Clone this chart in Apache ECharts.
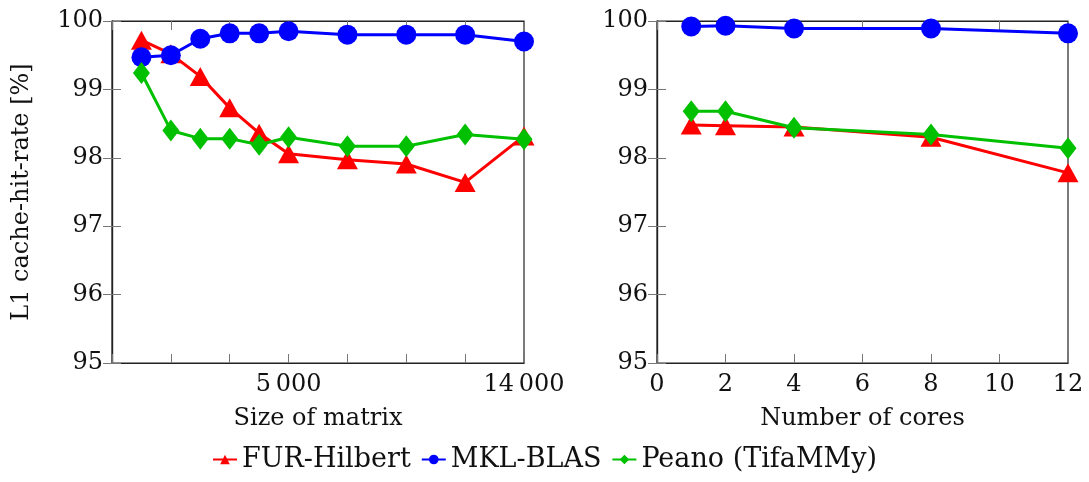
<!DOCTYPE html>
<html>
<head>
<meta charset="utf-8">
<script src="https://cdn.jsdelivr.net/npm/echarts@6/dist/echarts.min.js"></script>
<style>html,body{margin:0;padding:0;background:#fff}#c{width:1089px;height:482px}</style>
</head>
<body>
<div id="c"></div>
<script>
// Left panel: matrix sizes placed on the (non-uniform) axis steps used in the figure
const sizeSteps = [1, 2, 3, 4, 5, 6, 8, 10, 12, 14];
const sizeTickLabels = {6: '5\u2009000', 14: '14\u2009000'};
const furSize  = [99.72, 99.52, 99.19, 98.73, 98.36, 98.06, 97.97, 97.91, 97.64, 98.32];
const mklSize  = [99.47, 99.50, 99.74, 99.82, 99.82, 99.85, 99.80, 99.80, 99.80, 99.70];
const peanoSize= [99.24, 98.40, 98.28, 98.28, 98.19, 98.30, 98.17, 98.17, 98.34, 98.27];
// Right panel: number of cores
const cores = [1, 2, 4, 8, 12];
const furCores  = [98.48, 98.47, 98.45, 98.30, 97.78];
const mklCores  = [99.92, 99.93, 99.89, 99.89, 99.82];
const peanoCores= [98.68, 98.68, 98.44, 98.34, 98.14];

const FONT = 'DejaVu Serif';
const names = ['FUR-Hilbert', 'MKL-BLAS', 'Peano (TifaMMy)'];
const colors = ['#ff0000', '#0000ff', '#00c000'];
const symbols = ['triangle', 'circle', 'diamond'];
const symSizes = [[21, 19], 20, [17, 22]];

function zip(xs, ys){ return xs.map((x,i)=>[x, ys[i]]); }

const chart = echarts.init(document.getElementById('c'), null, {renderer:'canvas'});
const axisLine = {show:true, lineStyle:{color:'#222', width:1.2}};
const tick = {show:true, inside:true, length:9, lineStyle:{color:'#777', width:1}};
const lbl = {fontFamily:FONT, fontSize:24, color:'#111'};

function mkSeries(idx, data, xi, yi){
  return {
    name: names[idx], type:'line', data, xAxisIndex:xi, yAxisIndex:yi,
    symbol: symbols[idx], symbolSize: symSizes[idx], showSymbol:true,
    lineStyle:{color:colors[idx], width:3}, itemStyle:{color:colors[idx]},
    z: idx===1?3:(idx===0?2:4), animation:false
  };
}

const option = {
  animation:false,
  legend:{
    bottom: 4, left:'center', itemGap: 10, itemWidth: 24, itemHeight: 12,
    textStyle:{fontFamily:FONT, fontSize:27, color:'#111'},
    data: names
  },
  grid:[
    {left:112, right:565, top:21, bottom:119, show:true, borderColor:'#222', borderWidth:1.2},
    {left:657, right:21, top:21, bottom:119, show:true, borderColor:'#222', borderWidth:1.2}
  ],
  xAxis:[
    {type:'value', gridIndex:0, min:0, max:14, interval:2, axisLine, axisTick:tick, splitLine:{show:false},
     name:'Size of matrix', nameLocation:'middle', nameGap:44, nameTextStyle:lbl,
     axisLabel:{...lbl, margin:10, formatter:v=>sizeTickLabels[v]||''}},
    {type:'value', gridIndex:1, min:0, max:12, interval:2, axisLine, axisTick:tick, splitLine:{show:false},
     name:'Number of cores', nameLocation:'middle', nameGap:44, nameTextStyle:lbl,
     axisLabel:{...lbl, margin:10}},
    {type:'value', gridIndex:0, position:'top', min:0, max:14, interval:2, axisLine, axisTick:tick, axisLabel:{show:false}, splitLine:{show:false}},
    {type:'value', gridIndex:1, position:'top', min:0, max:12, interval:2, axisLine, axisTick:tick, axisLabel:{show:false}, splitLine:{show:false}}
  ],
  yAxis:[
    {type:'value', gridIndex:0, min:95, max:100, interval:1, axisLine, axisTick:tick, splitLine:{show:false},
     name:'L1 cache-hit-rate [%]', nameLocation:'middle', nameGap:78, nameTextStyle:lbl,
     axisLabel:{...lbl, margin:9}},
    {type:'value', gridIndex:1, min:95, max:100, interval:1, axisLine, axisTick:tick, splitLine:{show:false},
     axisLabel:{...lbl, margin:9}},
    {type:'value', gridIndex:0, position:'right', min:95, max:100, interval:1, axisLine, axisTick:tick, axisLabel:{show:false}, splitLine:{show:false}},
    {type:'value', gridIndex:1, position:'right', min:95, max:100, interval:1, axisLine, axisTick:tick, axisLabel:{show:false}, splitLine:{show:false}}
  ],
  series:[
    mkSeries(0, zip(sizeSteps, furSize), 0, 0),
    mkSeries(1, zip(sizeSteps, mklSize), 0, 0),
    mkSeries(2, zip(sizeSteps, peanoSize), 0, 0),
    mkSeries(0, zip(cores, furCores), 1, 1),
    mkSeries(1, zip(cores, mklCores), 1, 1),
    mkSeries(2, zip(cores, peanoCores), 1, 1)
  ]
};
chart.setOption(option);
</script>
</body>
</html>
